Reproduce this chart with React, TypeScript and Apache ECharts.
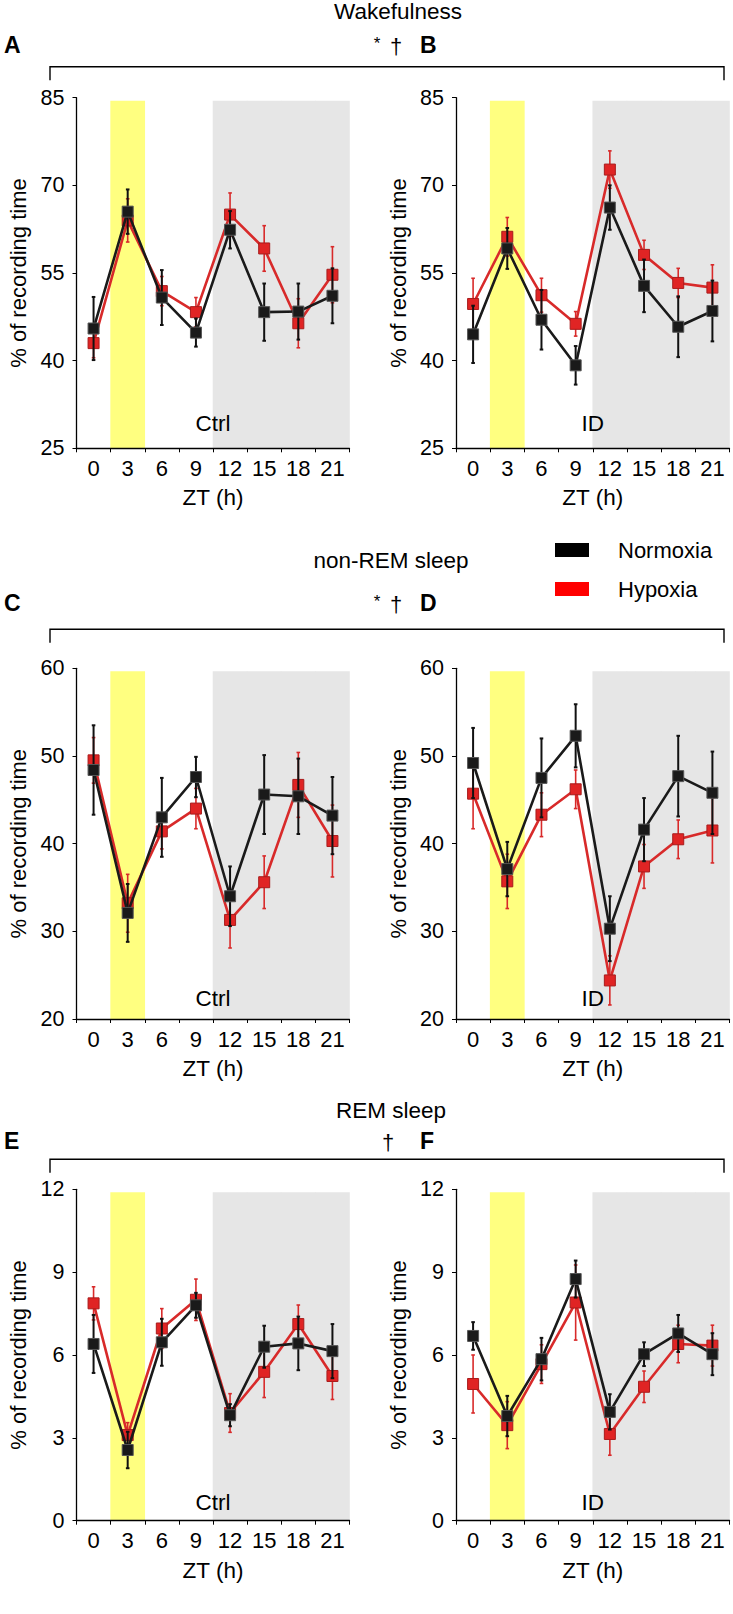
import React, { useEffect, useRef } from "react";
import * as echarts from "echarts";

// ---------- data ----------
const ztLabels = ["0", "3", "6", "9", "12", "15", "18", "21"];
const lightPulseZT = ["3"];
const darkPhaseZT = ["12", "15", "18", "21"];

const wakeTicks = [25, 40, 55, 70, 85];
const nremTicks = [20, 30, 40, 50, 60];
const remTicks = [0, 3, 6, 9, 12];

// A: Wakefulness, Ctrl
const wakeCtrlNormoxia = [45.5, 65.5, 50.8, 44.8, 62.4, 48.3, 48.4, 51.1];
const wakeCtrlNormoxiaErr = [5.4, 3.8, 4.7, 2.4, 3.2, 4.9, 4.8, 4.7];
const wakeCtrlHypoxia = [43.0, 64.0, 51.9, 48.3, 65.0, 59.2, 46.4, 54.7];
const wakeCtrlHypoxiaErr = [2.5, 3.7, 2.5, 2.5, 3.7, 3.9, 4.2, 4.8];
// B: Wakefulness, ID
const wakeIdNormoxia = [44.5, 59.2, 47.0, 39.2, 66.2, 52.8, 45.8, 48.5];
const wakeIdNormoxiaErr = [4.9, 3.5, 5.1, 3.3, 3.8, 4.5, 5.2, 5.2];
const wakeIdHypoxia = [49.7, 61.2, 51.2, 46.3, 72.7, 58.1, 53.3, 52.5];
const wakeIdHypoxiaErr = [4.4, 3.3, 2.9, 2.1, 3.2, 2.5, 2.5, 3.9];
// C: non-REM, Ctrl
const nremCtrlNormoxia = [48.4, 32.1, 43.0, 47.6, 34.0, 45.6, 45.4, 43.2];
const nremCtrlNormoxiaErr = [5.1, 3.3, 4.5, 2.3, 3.4, 4.5, 4.3, 4.4];
const nremCtrlHypoxia = [49.5, 33.2, 41.4, 44.0, 31.3, 35.6, 46.7, 40.3];
const nremCtrlHypoxiaErr = [2.6, 3.3, 2.0, 2.3, 3.2, 3.0, 3.7, 4.1];
// D: non-REM, ID
const nremIdNormoxia = [49.2, 37.1, 47.5, 52.3, 30.3, 41.6, 47.7, 45.8];
const nremIdNormoxiaErr = [4.0, 3.1, 4.5, 3.6, 3.7, 3.6, 4.6, 4.7];
const nremIdHypoxia = [45.7, 35.7, 43.3, 46.2, 24.4, 37.4, 40.5, 41.5];
const nremIdHypoxiaErr = [4.0, 3.1, 2.5, 2.2, 2.8, 2.5, 2.2, 3.7];
// E: REM, Ctrl
const remCtrlNormoxia = [6.4, 2.56, 6.46, 7.8, 3.82, 6.3, 6.42, 6.14];
const remCtrlNormoxiaErr = [1.05, 0.66, 0.85, 0.45, 0.4, 0.76, 0.97, 0.98];
const remCtrlHypoxia = [7.87, 3.1, 6.96, 8.0, 3.9, 5.39, 7.12, 5.24];
const remCtrlHypoxiaErr = [0.6, 0.45, 0.72, 0.75, 0.7, 0.93, 0.69, 0.85];
// F: REM, ID
const remIdNormoxia = [6.69, 3.79, 5.85, 8.75, 3.94, 6.03, 6.78, 6.03];
const remIdNormoxiaErr = [0.5, 0.73, 0.77, 0.67, 0.64, 0.43, 0.67, 0.76];
const remIdHypoxia = [4.95, 3.46, 5.67, 7.9, 3.14, 4.85, 6.4, 6.34];
const remIdHypoxiaErr = [1.05, 0.85, 0.7, 1.36, 0.77, 0.57, 0.68, 0.74];

const sectionTitles = ["Wakefulness", "non-REM sleep", "REM sleep"];
const sectionStar = ["*", "*", ""];
const sectionDagger = ["†", "†", "†"];
const panelLetters = ["A", "B", "C", "D", "E", "F"];
const groupLabels = ["Ctrl", "ID"];
const seriesNames = ["Normoxia", "Hypoxia"];

// ---------- styling / layout ----------
const FONT = 'Arial, "Liberation Sans", Helvetica, sans-serif';
const BLACK = "#1a1a1a";
const RED = "#e02424";
const RED_LINE = "#d82a2a";
const YELLOW = "#ffff80";
const GRAY = "#e6e6e6";

const panels = [
  { min: 25, max: 85, ticks: wakeTicks, n: wakeCtrlNormoxia, ne: wakeCtrlNormoxiaErr, h: wakeCtrlHypoxia, he: wakeCtrlHypoxiaErr },
  { min: 25, max: 85, ticks: wakeTicks, n: wakeIdNormoxia, ne: wakeIdNormoxiaErr, h: wakeIdHypoxia, he: wakeIdHypoxiaErr },
  { min: 20, max: 60, ticks: nremTicks, n: nremCtrlNormoxia, ne: nremCtrlNormoxiaErr, h: nremCtrlHypoxia, he: nremCtrlHypoxiaErr },
  { min: 20, max: 60, ticks: nremTicks, n: nremIdNormoxia, ne: nremIdNormoxiaErr, h: nremIdHypoxia, he: nremIdHypoxiaErr },
  { min: 0, max: 12, ticks: remTicks, n: remCtrlNormoxia, ne: remCtrlNormoxiaErr, h: remCtrlHypoxia, he: remCtrlHypoxiaErr },
  { min: 0, max: 12, ticks: remTicks, n: remIdNormoxia, ne: remIdNormoxiaErr, h: remIdHypoxia, he: remIdHypoxiaErr },
];

const colLeft = [76.5, 456];
const colWidth = [273, 273.5];
const rowTop = [97.7, 668.3, 1189.3];
const rowHeight = [350.6, 350.7, 331.4];
const rowTitleY = [11, 560, 1110];
const rowLetterY = [45, 603, 1141];
const rowBracketY = [66.7, 629.3, 1159.3];
const rowBracketDrop = 13.5;
const rowCondLabelY = [423, 998, 1502];

function bandRender(color: string) {
  return (params: any, api: any) => {
    const cs = params.coordSys;
    const c = api.coord([api.value(0), api.value(1)]);
    const w = api.size([1, 0])[0];
    return {
      type: "rect",
      shape: { x: c[0] - w / 2 - 0.3, y: cs.y + 3, width: w + 0.6, height: cs.height - 3 },
      style: { fill: color },
      silent: true,
    };
  };
}

function errRender(color: string, lw: number) {
  return (params: any, api: any) => {
    const x = api.value(0);
    const m = api.value(1);
    const e = api.value(2);
    const t = api.coord([x, m + e]);
    const b = api.coord([x, m - e]);
    const cap = 1.8;
    const style = { stroke: color, lineWidth: lw };
    return {
      type: "group",
      children: [
        { type: "line", shape: { x1: t[0], y1: t[1], x2: b[0], y2: b[1] }, style },
        { type: "line", shape: { x1: t[0] - cap, y1: t[1], x2: t[0] + cap, y2: t[1] }, style },
        { type: "line", shape: { x1: b[0] - cap, y1: b[1], x2: b[0] + cap, y2: b[1] }, style },
      ],
    };
  };
}

function buildOption() {
  const grid: any[] = [];
  const xAxis: any[] = [];
  const yAxis: any[] = [];
  const series: any[] = [];
  const graphic: any[] = [];

  panels.forEach((p, i) => {
    const col = i % 2;
    const row = Math.floor(i / 2);
    grid.push({ left: colLeft[col], top: rowTop[row], width: colWidth[col], height: rowHeight[row] });
    xAxis.push({
      type: "category",
      gridIndex: i,
      data: ztLabels,
      boundaryGap: true,
      name: "ZT (h)",
      nameLocation: "middle",
      nameGap: 38,
      nameTextStyle: { fontSize: 22.5, color: "#000", fontFamily: FONT },
      axisLine: { show: true, lineStyle: { color: "#000", width: 1.3 } },
      axisTick: { show: true, length: 4, interval: 0, alignWithLabel: false, lineStyle: { color: "#000", width: 1 } },
      axisLabel: { interval: 0, margin: 9, fontSize: 22, color: "#000", fontFamily: FONT },
      splitLine: { show: false },
    });
    yAxis.push({
      type: "value",
      gridIndex: i,
      min: p.min,
      max: p.max,
      name: "% of recording time",
      nameLocation: "middle",
      nameRotate: 90,
      nameGap: 47,
      nameTextStyle: { fontSize: 22, color: "#000", fontFamily: FONT },
      axisLine: { show: true, lineStyle: { color: "#000", width: 1.3 } },
      axisTick: { show: true, length: 4, customValues: p.ticks, lineStyle: { color: "#000", width: 1 } },
      axisLabel: { customValues: p.ticks, fontSize: 21.5, margin: 12, color: "#000", fontFamily: FONT },
      splitLine: { show: false },
    });

    series.push({
      type: "custom",
      name: "light pulse",
      xAxisIndex: i,
      yAxisIndex: i,
      z: 0,
      silent: true,
      renderItem: bandRender(YELLOW),
      encode: { x: 0, y: 1 },
      data: lightPulseZT.map((zt) => [ztLabels.indexOf(zt), p.max]),
    });
    series.push({
      type: "custom",
      name: "dark phase",
      xAxisIndex: i,
      yAxisIndex: i,
      z: 0,
      silent: true,
      renderItem: bandRender(GRAY),
      encode: { x: 0, y: 1 },
      data: darkPhaseZT.map((zt) => [ztLabels.indexOf(zt), p.max]),
    });
    series.push({
      type: "custom",
      name: "Hypoxia SEM",
      xAxisIndex: i,
      yAxisIndex: i,
      z: 2,
      renderItem: errRender(RED_LINE, 1.6),
      encode: { x: 0, y: 1 },
      data: p.h.map((v, k) => [k, v, p.he[k]]),
    });
    series.push({
      type: "line",
      name: seriesNames[1],
      xAxisIndex: i,
      yAxisIndex: i,
      z: 3,
      data: p.h,
      symbol: "rect",
      symbolSize: 11,
      lineStyle: { color: RED_LINE, width: 2.6 },
      itemStyle: { color: RED, borderColor: "#a81c1c", borderWidth: 1 },
    });
    series.push({
      type: "custom",
      name: "Normoxia SEM",
      xAxisIndex: i,
      yAxisIndex: i,
      z: 4,
      renderItem: errRender("#111", 2),
      encode: { x: 0, y: 1 },
      data: p.n.map((v, k) => [k, v, p.ne[k]]),
    });
    series.push({
      type: "line",
      name: seriesNames[0],
      xAxisIndex: i,
      yAxisIndex: i,
      z: 5,
      data: p.n,
      symbol: "rect",
      symbolSize: 11,
      lineStyle: { color: BLACK, width: 2.6 },
      itemStyle: { color: BLACK, borderColor: "#555", borderWidth: 1 },
    });

    // panel letter
    graphic.push({
      type: "text",
      z: 100,
      x: col === 0 ? 4 : 420,
      y: rowLetterY[row],
      style: { text: panelLetters[i], font: `bold 23px ${FONT}`, fill: "#000", textVerticalAlign: "middle" },
    });
    // condition label
    graphic.push({
      type: "text",
      z: 100,
      x: colLeft[col] + colWidth[col] / 2,
      y: rowCondLabelY[row],
      style: { text: groupLabels[col], font: `22.5px ${FONT}`, fill: "#000", textAlign: "center", textVerticalAlign: "middle" },
    });
  });

  sectionTitles.forEach((t, r) => {
    graphic.push({
      type: "text",
      z: 100,
      x: r === 0 ? 398 : 391,
      y: rowTitleY[r],
      style: { text: t, font: `22.5px ${FONT}`, fill: "#000", textAlign: "center", textVerticalAlign: "middle" },
    });
    if (sectionStar[r]) {
      graphic.push({
        type: "text",
        z: 100,
        x: 377,
        y: rowLetterY[r] - 2,
        style: { text: sectionStar[r], font: `17px ${FONT}`, fill: "#000", textAlign: "center", textVerticalAlign: "middle" },
      });
    }
    graphic.push({
      type: "text",
      z: 100,
      x: r === 2 ? 388 : 396,
      y: rowLetterY[r] + 1,
      style: { text: sectionDagger[r], font: `22px ${FONT}`, fill: "#000", textAlign: "center", textVerticalAlign: "middle" },
    });
    const by = rowBracketY[r];
    graphic.push({
      type: "polyline",
      z: 100,
      shape: { points: [[50, by + rowBracketDrop], [50, by], [724, by], [724, by + rowBracketDrop]] },
      style: { stroke: "#000", lineWidth: 1.4, fill: null },
    });
  });

  return {
    animation: false,
    backgroundColor: "#fff",
    textStyle: { fontFamily: FONT },
    grid,
    xAxis,
    yAxis,
    series,
    graphic,
    legend: {
      data: [
        { name: seriesNames[0], itemStyle: { color: "#000", borderWidth: 0 } },
        { name: seriesNames[1], itemStyle: { color: "#ff0000", borderWidth: 0 } },
      ],
      orient: "vertical",
      left: 555,
      top: 539,
      icon: "rect",
      itemWidth: 34,
      itemHeight: 14,
      itemGap: 17,
      selectedMode: false,
      padding: 0,
      textStyle: { fontSize: 22, lineHeight: 14, color: "#000", fontFamily: FONT, padding: [0, 0, 0, 24] },
    },
  };
}

export default function App() {
  const ref = useRef<HTMLDivElement>(null);
  useEffect(() => {
    document.body.style.margin = "0";
    if (!ref.current) return;
    const chart = echarts.init(ref.current, null, { renderer: "svg" });
    chart.setOption(buildOption() as any);
    return () => chart.dispose();
  }, []);
  return <div ref={ref} style={{ width: 733, height: 1614 }} />;
}
